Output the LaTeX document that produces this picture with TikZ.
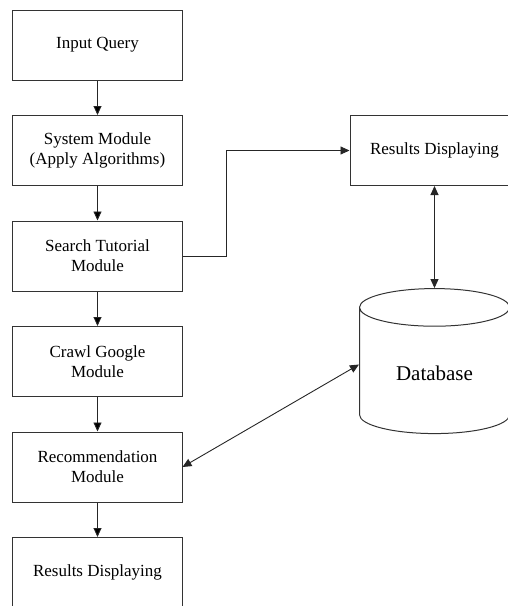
\documentclass[tikz,border=0pt]{standalone}
\usepackage{fontspec}
\setmainfont{Liberation Serif}
\usetikzlibrary{arrows.meta,positioning,shapes.geometric}

\tikzset{
  modbox/.style={draw=black!80, line width=1pt, fill=white, minimum width=169pt,
    minimum height=70pt, align=center, font=\fontsize{17}{20}\selectfont},
  link/.style={draw=black!85, line width=0.9pt}
}

\begin{document}
\begin{tikzpicture}[>={Triangle[length=9pt,width=8pt]},node distance=105.5pt,on grid]
                      \clip (-97.5pt,45pt) rectangle (410.5pt,-561pt);
                      \node[modbox] (query) {Input Query};
                      \node[modbox] (system) [below=of query] {System Module\\(Apply Algorithms)};
                      \node[modbox] (search) [below=of system] {Search Tutorial\\Module};
                      \node[modbox] (crawl) [below=of search] {Crawl Google\\Module};
                      \node[modbox] (recommend) [below=of crawl] {Recommendation\\Module};
                      \node[modbox] (result) [below=of recommend] {Results Displaying};
                      \node[modbox] (display) [right=337pt of system] {Results Displaying};
                      \node[cylinder, shape border rotate=90, aspect=0.45, draw=black!80, line width=1pt,
                            minimum width=150pt, minimum height=145pt, font=\fontsize{21}{24}\selectfont]
                            (db) [below=223pt of display] {Database};
                      \path[link,->]
                      (query) edge (system)
                      (system) edge (search)
                      (search) edge (crawl)
                      (crawl) edge (recommend)
                      (recommend) edge (result);
                      \draw[link,->] (search.east) -- ++(44pt,0) |- (display.west);
                      \draw[link,<->] (display.south) -- (db.north);
                      \draw[link,<->] (recommend.east) -- ([yshift=9pt]db.west);
                  \end{tikzpicture}
\end{document}
